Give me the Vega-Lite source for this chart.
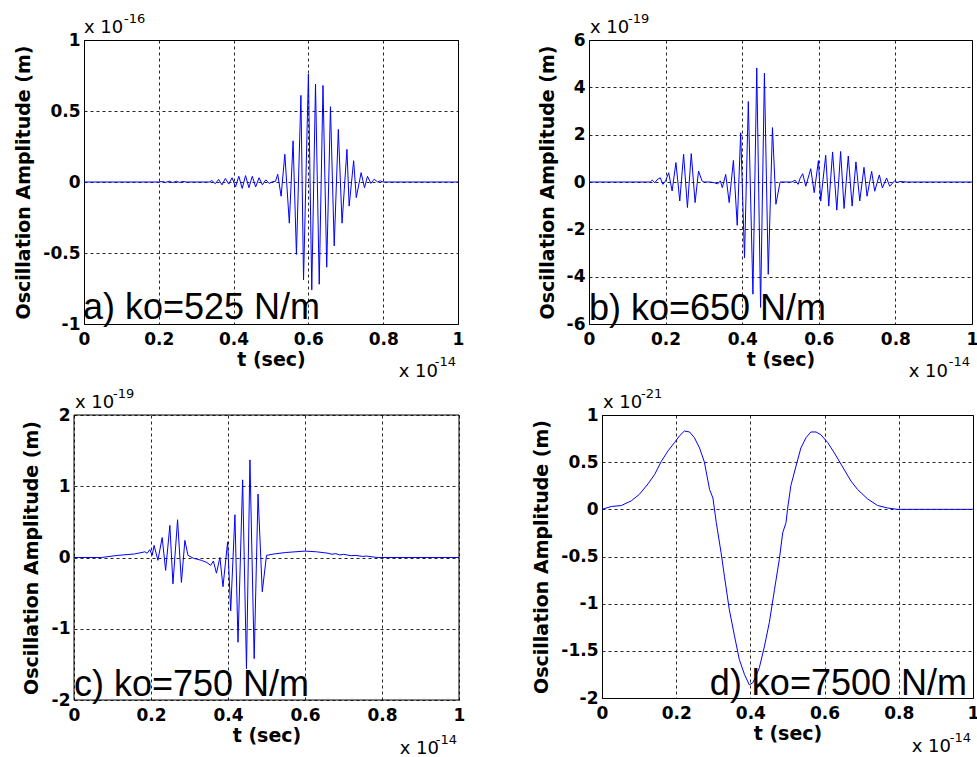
{
  "$schema": "https://vega.github.io/schema/vega-lite/v6.json",
  "background": "white",
  "padding": {"left": 14, "top": 12, "right": 0, "bottom": 0},
  "datasets": {
    "labels": [
      {"panel": "a", "label": "a) ko=525 N/m", "yexp": "-16", "xexp": "-14", "base": "x 10"},
      {"panel": "b", "label": "b) ko=650 N/m", "yexp": "-19", "xexp": "-14", "base": "x 10"},
      {"panel": "c", "label": "c) ko=750 N/m", "yexp": "-19", "xexp": "-14", "base": "x 10"},
      {"panel": "d", "label": "d) ko=7500 N/m", "yexp": "-21", "xexp": "-14", "base": "x 10"}
    ],
    "a": [
      {"t": 0, "y": 0}, {"t": 0.2, "y": 0}, {"t": 0.21, "y": 0.004}, {"t": 0.218, "y": -0.003}, {"t": 0.228, "y": 0.006}, {"t": 0.237, "y": -0.004}, {"t": 0.247, "y": 0.005}, {"t": 0.256, "y": -0.003}, {"t": 0.265, "y": 0.004}, {"t": 0.273, "y": 0},
      {"t": 0.335, "y": 0}, {"t": 0.342, "y": 0.01}, {"t": 0.351, "y": -0.012}, {"t": 0.36, "y": 0.018}, {"t": 0.369, "y": -0.02}, {"t": 0.378, "y": 0.025}, {"t": 0.387, "y": -0.015}, {"t": 0.396, "y": 0.03}, {"t": 0.405, "y": -0.035}, {"t": 0.414, "y": 0.04}, {"t": 0.423, "y": -0.045}, {"t": 0.432, "y": 0.045}, {"t": 0.441, "y": -0.04}, {"t": 0.45, "y": 0.04}, {"t": 0.459, "y": -0.035}, {"t": 0.468, "y": 0.03}, {"t": 0.477, "y": -0.02}, {"t": 0.486, "y": 0.015}, {"t": 0.495, "y": -0.01}, {"t": 0.505, "y": 0.003}, {"t": 0.512, "y": 0.005},
      {"t": 0.518, "y": 0.054}, {"t": 0.527, "y": -0.1}, {"t": 0.537, "y": 0.195}, {"t": 0.549, "y": -0.29}, {"t": 0.559, "y": 0.29}, {"t": 0.568, "y": -0.51}, {"t": 0.58, "y": 0.61}, {"t": 0.587, "y": -0.69}, {"t": 0.6, "y": 0.76}, {"t": 0.609, "y": -0.76}, {"t": 0.619, "y": 0.69}, {"t": 0.629, "y": -0.72}, {"t": 0.639, "y": 0.68}, {"t": 0.649, "y": -0.6}, {"t": 0.659, "y": 0.53}, {"t": 0.669, "y": -0.45}, {"t": 0.68, "y": 0.37}, {"t": 0.69, "y": -0.29}, {"t": 0.703, "y": 0.23}, {"t": 0.709, "y": -0.17}, {"t": 0.721, "y": 0.15}, {"t": 0.728, "y": -0.11}, {"t": 0.741, "y": 0.066}, {"t": 0.75, "y": -0.04}, {"t": 0.758, "y": 0.04}, {"t": 0.767, "y": -0.01}, {"t": 0.776, "y": 0.02}, {"t": 0.785, "y": 0}, {"t": 0.792, "y": 0.008}, {"t": 0.8, "y": 0}, {"t": 1, "y": 0}
    ],
    "b": [
      {"t": 0, "y": 0}, {"t": 0.16, "y": 0}, {"t": 0.165, "y": 0.08}, {"t": 0.172, "y": -0.03}, {"t": 0.178, "y": 0.1}, {"t": 0.186, "y": 0.18}, {"t": 0.193, "y": -0.1}, {"t": 0.2, "y": 0.05}, {"t": 0.208, "y": 0.39}, {"t": 0.217, "y": -0.38}, {"t": 0.227, "y": 0.82}, {"t": 0.237, "y": -0.8}, {"t": 0.247, "y": 1.17}, {"t": 0.257, "y": -1.08}, {"t": 0.267, "y": 1.2}, {"t": 0.277, "y": -0.87}, {"t": 0.286, "y": 0.46}, {"t": 0.295, "y": 0.05}, {"t": 0.3, "y": 0},
      {"t": 0.316, "y": 0}, {"t": 0.327, "y": -0.03}, {"t": 0.336, "y": -0.08}, {"t": 0.343, "y": 0.05}, {"t": 0.348, "y": -0.24}, {"t": 0.357, "y": 0.32}, {"t": 0.366, "y": -0.87}, {"t": 0.377, "y": 0.91}, {"t": 0.387, "y": -1.83}, {"t": 0.396, "y": 2.08}, {"t": 0.406, "y": -3.2}, {"t": 0.416, "y": 3.4}, {"t": 0.428, "y": -4.74}, {"t": 0.438, "y": 4.82}, {"t": 0.448, "y": -5.3}, {"t": 0.458, "y": 4.6}, {"t": 0.468, "y": -3.9}, {"t": 0.479, "y": 2.3}, {"t": 0.488, "y": -0.94}, {"t": 0.499, "y": 0},
      {"t": 0.53, "y": 0}, {"t": 0.538, "y": 0.08}, {"t": 0.546, "y": -0.1}, {"t": 0.551, "y": 0.15}, {"t": 0.558, "y": 0.35}, {"t": 0.566, "y": -0.18}, {"t": 0.579, "y": 0.56}, {"t": 0.588, "y": -0.45}, {"t": 0.599, "y": 0.9}, {"t": 0.605, "y": -0.81}, {"t": 0.618, "y": 1.13}, {"t": 0.626, "y": -1.02}, {"t": 0.636, "y": 1.27}, {"t": 0.647, "y": -1.19}, {"t": 0.657, "y": 1.29}, {"t": 0.666, "y": -1.12}, {"t": 0.677, "y": 1.1}, {"t": 0.687, "y": -1.02}, {"t": 0.697, "y": 0.85}, {"t": 0.707, "y": -0.8}, {"t": 0.718, "y": 0.62}, {"t": 0.726, "y": -0.6}, {"t": 0.738, "y": 0.45}, {"t": 0.746, "y": -0.39}, {"t": 0.758, "y": 0.3}, {"t": 0.766, "y": -0.25}, {"t": 0.777, "y": 0.17}, {"t": 0.785, "y": -0.18}, {"t": 0.798, "y": 0.05}, {"t": 0.805, "y": -0.02}, {"t": 0.812, "y": 0.02}, {"t": 0.829, "y": 0}, {"t": 1, "y": 0}
    ],
    "c": [
      {"t": 0, "y": 0}, {"t": 0.071, "y": 0}, {"t": 0.114, "y": 0.03}, {"t": 0.158, "y": 0.05}, {"t": 0.184, "y": 0.08}, {"t": 0.19, "y": 0.06}, {"t": 0.197, "y": 0.11}, {"t": 0.203, "y": 0.03}, {"t": 0.208, "y": 0.17}, {"t": 0.218, "y": -0.04}, {"t": 0.229, "y": 0.28}, {"t": 0.238, "y": -0.18}, {"t": 0.249, "y": 0.45}, {"t": 0.257, "y": -0.37}, {"t": 0.269, "y": 0.53}, {"t": 0.279, "y": -0.35}, {"t": 0.288, "y": 0.24}, {"t": 0.296, "y": 0.03}, {"t": 0.31, "y": -0.01}, {"t": 0.331, "y": -0.04}, {"t": 0.345, "y": -0.07}, {"t": 0.355, "y": -0.11}, {"t": 0.362, "y": -0.05}, {"t": 0.37, "y": -0.22}, {"t": 0.379, "y": 0}, {"t": 0.387, "y": -0.41}, {"t": 0.399, "y": 0.22}, {"t": 0.407, "y": -0.75}, {"t": 0.418, "y": 0.6}, {"t": 0.426, "y": -1.19}, {"t": 0.438, "y": 1.09}, {"t": 0.448, "y": -1.56}, {"t": 0.457, "y": 1.37}, {"t": 0.468, "y": -1.42}, {"t": 0.478, "y": 0.89}, {"t": 0.489, "y": -0.48}, {"t": 0.5, "y": 0.03}, {"t": 0.52, "y": 0.05}, {"t": 0.55, "y": 0.07}, {"t": 0.6, "y": 0.09}, {"t": 0.63, "y": 0.08}, {"t": 0.66, "y": 0.06}, {"t": 0.67, "y": 0.045}, {"t": 0.68, "y": 0.055}, {"t": 0.69, "y": 0.035}, {"t": 0.7, "y": 0.045}, {"t": 0.72, "y": 0.025}, {"t": 0.73, "y": 0.03}, {"t": 0.75, "y": 0.015}, {"t": 0.76, "y": 0.02}, {"t": 0.78, "y": 0.005}, {"t": 0.79, "y": 0}, {"t": 1, "y": 0}
    ],
    "d": [
      {"t": 0, "y": 0}, {"t": 0.025, "y": 0.03}, {"t": 0.052, "y": 0.04}, {"t": 0.079, "y": 0.09}, {"t": 0.101, "y": 0.16}, {"t": 0.124, "y": 0.27}, {"t": 0.142, "y": 0.37}, {"t": 0.16, "y": 0.51}, {"t": 0.178, "y": 0.62}, {"t": 0.196, "y": 0.71}, {"t": 0.209, "y": 0.78}, {"t": 0.222, "y": 0.83}, {"t": 0.236, "y": 0.82}, {"t": 0.249, "y": 0.76}, {"t": 0.263, "y": 0.65}, {"t": 0.276, "y": 0.5}, {"t": 0.29, "y": 0.21}, {"t": 0.299, "y": 0.12}, {"t": 0.308, "y": -0.14}, {"t": 0.321, "y": -0.46}, {"t": 0.33, "y": -0.71}, {"t": 0.343, "y": -1.06}, {"t": 0.357, "y": -1.34}, {"t": 0.37, "y": -1.59}, {"t": 0.384, "y": -1.75}, {"t": 0.397, "y": -1.86}, {"t": 0.406, "y": -1.84}, {"t": 0.415, "y": -1.77}, {"t": 0.424, "y": -1.68}, {"t": 0.438, "y": -1.45}, {"t": 0.451, "y": -1.2}, {"t": 0.465, "y": -0.85}, {"t": 0.478, "y": -0.53}, {"t": 0.487, "y": -0.25}, {"t": 0.496, "y": -0.14}, {"t": 0.5, "y": 0}, {"t": 0.509, "y": 0.25}, {"t": 0.523, "y": 0.46}, {"t": 0.536, "y": 0.65}, {"t": 0.55, "y": 0.76}, {"t": 0.563, "y": 0.82}, {"t": 0.577, "y": 0.82}, {"t": 0.59, "y": 0.79}, {"t": 0.608, "y": 0.71}, {"t": 0.626, "y": 0.6}, {"t": 0.644, "y": 0.48}, {"t": 0.671, "y": 0.3}, {"t": 0.689, "y": 0.21}, {"t": 0.716, "y": 0.11}, {"t": 0.743, "y": 0.04}, {"t": 0.77, "y": 0.014}, {"t": 0.796, "y": 0}, {"t": 1, "y": 0}
    ]
  },
  "config": {
    "view": {"stroke": "black", "strokeWidth": 1},
    "axis": {
      "grid": true, "gridColor": "black", "gridDash": [3, 3], "gridOpacity": 0.85, "gridWidth": 1,
      "ticks": false, "domain": false,
      "labelFont": "DejaVu Sans", "labelFontSize": 17, "labelFontWeight": "bold", "labelColor": "black",
      "titleFont": "DejaVu Sans", "titleFontSize": 19, "titleFontWeight": "bold", "titleColor": "black",
      "labelFlush": false, "labelOverlap": false, "labelBound": false
    },
    "axisX": {"labelPadding": 7, "titlePadding": 3},
    "axisY": {"labelPadding": 4, "titlePadding": 9},
    "text": {"color": "black"}
  },
  "vconcat": [
    {
      "hconcat": [
        {
          "width": 374, "height": 284,
          "layer": [
            {"data": {"name": "a"}, "mark": {"type": "line", "color": "#0000ff", "strokeWidth": 1},
             "encoding": {
               "x": {"field": "t", "type": "quantitative", "scale": {"domain": [0, 1], "nice": false}, "axis": {"values": [0, 0.2, 0.4, 0.6, 0.8, 1], "format": "~g", "title": "t (sec)"}},
               "y": {"field": "y", "type": "quantitative", "scale": {"domain": [-1, 1], "nice": false}, "axis": {"values": [-1, -0.5, 0, 0.5, 1], "labelExpr": "datum.value < 0 ? '-' + format(-datum.value, '~g') : format(datum.value, '~g')", "title": "Oscillation Amplitude (m)"}}
             }},
            {"data": {"name": "labels"}, "transform": [{"filter": "datum.panel === 'a'"}],
             "layer": [
               {"mark": {"type": "text", "font": "Liberation Sans", "fontSize": 36, "align": "left", "baseline": "alphabetic", "dx": -1, "dy": -5}, "encoding": {"x": {"datum": 0}, "y": {"datum": -1}, "text": {"field": "label"}}},
               {"mark": {"type": "text", "font": "DejaVu Sans", "fontSize": 18, "align": "left", "baseline": "alphabetic", "dx": 0, "dy": -7}, "encoding": {"x": {"datum": 0}, "y": {"datum": 1}, "text": {"field": "base"}}},
               {"mark": {"type": "text", "font": "DejaVu Sans", "fontSize": 13, "align": "left", "baseline": "alphabetic", "dx": 40, "dy": -17}, "encoding": {"x": {"datum": 0}, "y": {"datum": 1}, "text": {"field": "yexp"}}},
               {"mark": {"type": "text", "font": "DejaVu Sans", "fontSize": 18, "align": "right", "baseline": "alphabetic", "dx": -20, "dy": 53}, "encoding": {"x": {"datum": 1}, "y": {"datum": -1}, "text": {"field": "base"}}},
               {"mark": {"type": "text", "font": "DejaVu Sans", "fontSize": 13, "align": "right", "baseline": "alphabetic", "dx": -2, "dy": 42}, "encoding": {"x": {"datum": 1}, "y": {"datum": -1}, "text": {"field": "xexp"}}}
             ]}
          ]
        },
        {
          "width": 383, "height": 284,
          "layer": [
            {"data": {"name": "b"}, "mark": {"type": "line", "color": "#0000ff", "strokeWidth": 1},
             "encoding": {
               "x": {"field": "t", "type": "quantitative", "scale": {"domain": [0, 1], "nice": false}, "axis": {"values": [0, 0.2, 0.4, 0.6, 0.8, 1], "format": "~g", "title": "t (sec)"}},
               "y": {"field": "y", "type": "quantitative", "scale": {"domain": [-6, 6], "nice": false}, "axis": {"values": [-6, -4, -2, 0, 2, 4, 6], "labelExpr": "datum.value < 0 ? '-' + format(-datum.value, '~g') : format(datum.value, '~g')", "title": "Oscillation Amplitude (m)"}}
             }},
            {"data": {"name": "labels"}, "transform": [{"filter": "datum.panel === 'b'"}],
             "layer": [
               {"mark": {"type": "text", "font": "Liberation Sans", "fontSize": 36, "align": "left", "baseline": "alphabetic", "dx": 0, "dy": -4}, "encoding": {"x": {"datum": 0}, "y": {"datum": -6}, "text": {"field": "label"}}},
               {"mark": {"type": "text", "font": "DejaVu Sans", "fontSize": 18, "align": "left", "baseline": "alphabetic", "dx": 1, "dy": -7}, "encoding": {"x": {"datum": 0}, "y": {"datum": 6}, "text": {"field": "base"}}},
               {"mark": {"type": "text", "font": "DejaVu Sans", "fontSize": 13, "align": "left", "baseline": "alphabetic", "dx": 39, "dy": -17}, "encoding": {"x": {"datum": 0}, "y": {"datum": 6}, "text": {"field": "yexp"}}},
               {"mark": {"type": "text", "font": "DejaVu Sans", "fontSize": 18, "align": "right", "baseline": "alphabetic", "dx": -24, "dy": 53}, "encoding": {"x": {"datum": 1}, "y": {"datum": -6}, "text": {"field": "base"}}},
               {"mark": {"type": "text", "font": "DejaVu Sans", "fontSize": 13, "align": "right", "baseline": "alphabetic", "dx": -2, "dy": 42}, "encoding": {"x": {"datum": 1}, "y": {"datum": -6}, "text": {"field": "xexp"}}}
             ]}
          ]
        }
      ],
      "spacing": 72
    },
    {
      "hconcat": [
        {
          "width": 375, "height": 285,
          "view": {"stroke": null},
          "layer": [
            {"data": {"name": "c"}, "mark": {"type": "line", "color": "#0000ff", "strokeWidth": 1},
             "encoding": {
               "x": {"field": "t", "type": "quantitative", "scale": {"domain": [0, 1], "nice": false, "range": [-10, 375]}, "axis": {"values": [0, 0.2, 0.4, 0.6, 0.8, 1], "format": "~g", "title": "t (sec)"}},
               "y": {"field": "y", "type": "quantitative", "scale": {"domain": [-2, 2], "nice": false}, "axis": {"values": [-2, -1, 0, 1, 2], "offset": 10, "titlePadding": 10, "labelExpr": "datum.value < 0 ? '-' + format(-datum.value, '~g') : format(datum.value, '~g')", "title": "Oscillation Amplitude (m)"}}
             }},
            {"data": {"name": "labels"}, "transform": [{"filter": "datum.panel === 'c'"}],
             "layer": [
               {"mark": {"type": "rect", "fill": null, "stroke": "black", "strokeWidth": 1}, "encoding": {"x": {"datum": 0}, "x2": {"datum": 1}, "y": {"datum": -2}, "y2": {"datum": 2}}},
               {"mark": {"type": "text", "font": "Liberation Sans", "fontSize": 36, "align": "left", "baseline": "alphabetic", "dx": 0, "dy": -4}, "encoding": {"x": {"datum": 0}, "y": {"datum": -2}, "text": {"field": "label"}}},
               {"mark": {"type": "text", "font": "DejaVu Sans", "fontSize": 18, "align": "left", "baseline": "alphabetic", "dx": 1, "dy": -7}, "encoding": {"x": {"datum": 0}, "y": {"datum": 2}, "text": {"field": "base"}}},
               {"mark": {"type": "text", "font": "DejaVu Sans", "fontSize": 13, "align": "left", "baseline": "alphabetic", "dx": 39, "dy": -17}, "encoding": {"x": {"datum": 0}, "y": {"datum": 2}, "text": {"field": "yexp"}}},
               {"mark": {"type": "text", "font": "DejaVu Sans", "fontSize": 18, "align": "right", "baseline": "alphabetic", "dx": -20, "dy": 54}, "encoding": {"x": {"datum": 1}, "y": {"datum": -2}, "text": {"field": "base"}}},
               {"mark": {"type": "text", "font": "DejaVu Sans", "fontSize": 13, "align": "right", "baseline": "alphabetic", "dx": -2, "dy": 44}, "encoding": {"x": {"datum": 1}, "y": {"datum": -2}, "text": {"field": "xexp"}}}
             ]}
          ]
        },
        {
          "width": 371, "height": 283,
          "layer": [
            {"data": {"name": "d"}, "mark": {"type": "line", "color": "#0000ff", "strokeWidth": 1},
             "encoding": {
               "x": {"field": "t", "type": "quantitative", "scale": {"domain": [0, 1], "nice": false}, "axis": {"values": [0, 0.2, 0.4, 0.6, 0.8, 1], "format": "~g", "title": "t (sec)"}},
               "y": {"field": "y", "type": "quantitative", "scale": {"domain": [-2, 1], "nice": false}, "axis": {"values": [-2, -1.5, -1, -0.5, 0, 0.5, 1], "labelExpr": "datum.value < 0 ? '-' + format(-datum.value, '~g') : format(datum.value, '~g')", "title": "Oscillation Amplitude (m)"}}
             }},
            {"data": {"name": "labels"}, "transform": [{"filter": "datum.panel === 'd'"}],
             "layer": [
               {"mark": {"type": "text", "font": "Liberation Sans", "fontSize": 36, "align": "right", "baseline": "alphabetic", "dx": -6, "dy": -3}, "encoding": {"x": {"datum": 1}, "y": {"datum": -2}, "text": {"field": "label"}}},
               {"mark": {"type": "text", "font": "DejaVu Sans", "fontSize": 18, "align": "left", "baseline": "alphabetic", "dx": 1, "dy": -7}, "encoding": {"x": {"datum": 0}, "y": {"datum": 1}, "text": {"field": "base"}}},
               {"mark": {"type": "text", "font": "DejaVu Sans", "fontSize": 13, "align": "left", "baseline": "alphabetic", "dx": 39, "dy": -17}, "encoding": {"x": {"datum": 0}, "y": {"datum": 1}, "text": {"field": "yexp"}}},
               {"mark": {"type": "text", "font": "DejaVu Sans", "fontSize": 18, "align": "right", "baseline": "alphabetic", "dx": -22, "dy": 54}, "encoding": {"x": {"datum": 1}, "y": {"datum": -2}, "text": {"field": "base"}}},
               {"mark": {"type": "text", "font": "DejaVu Sans", "fontSize": 13, "align": "right", "baseline": "alphabetic", "dx": -2, "dy": 44}, "encoding": {"x": {"datum": 1}, "y": {"datum": -2}, "text": {"field": "xexp"}}}
             ]}
          ]
        }
      ],
      "spacing": 63
    }
  ],
  "spacing": 5
}
